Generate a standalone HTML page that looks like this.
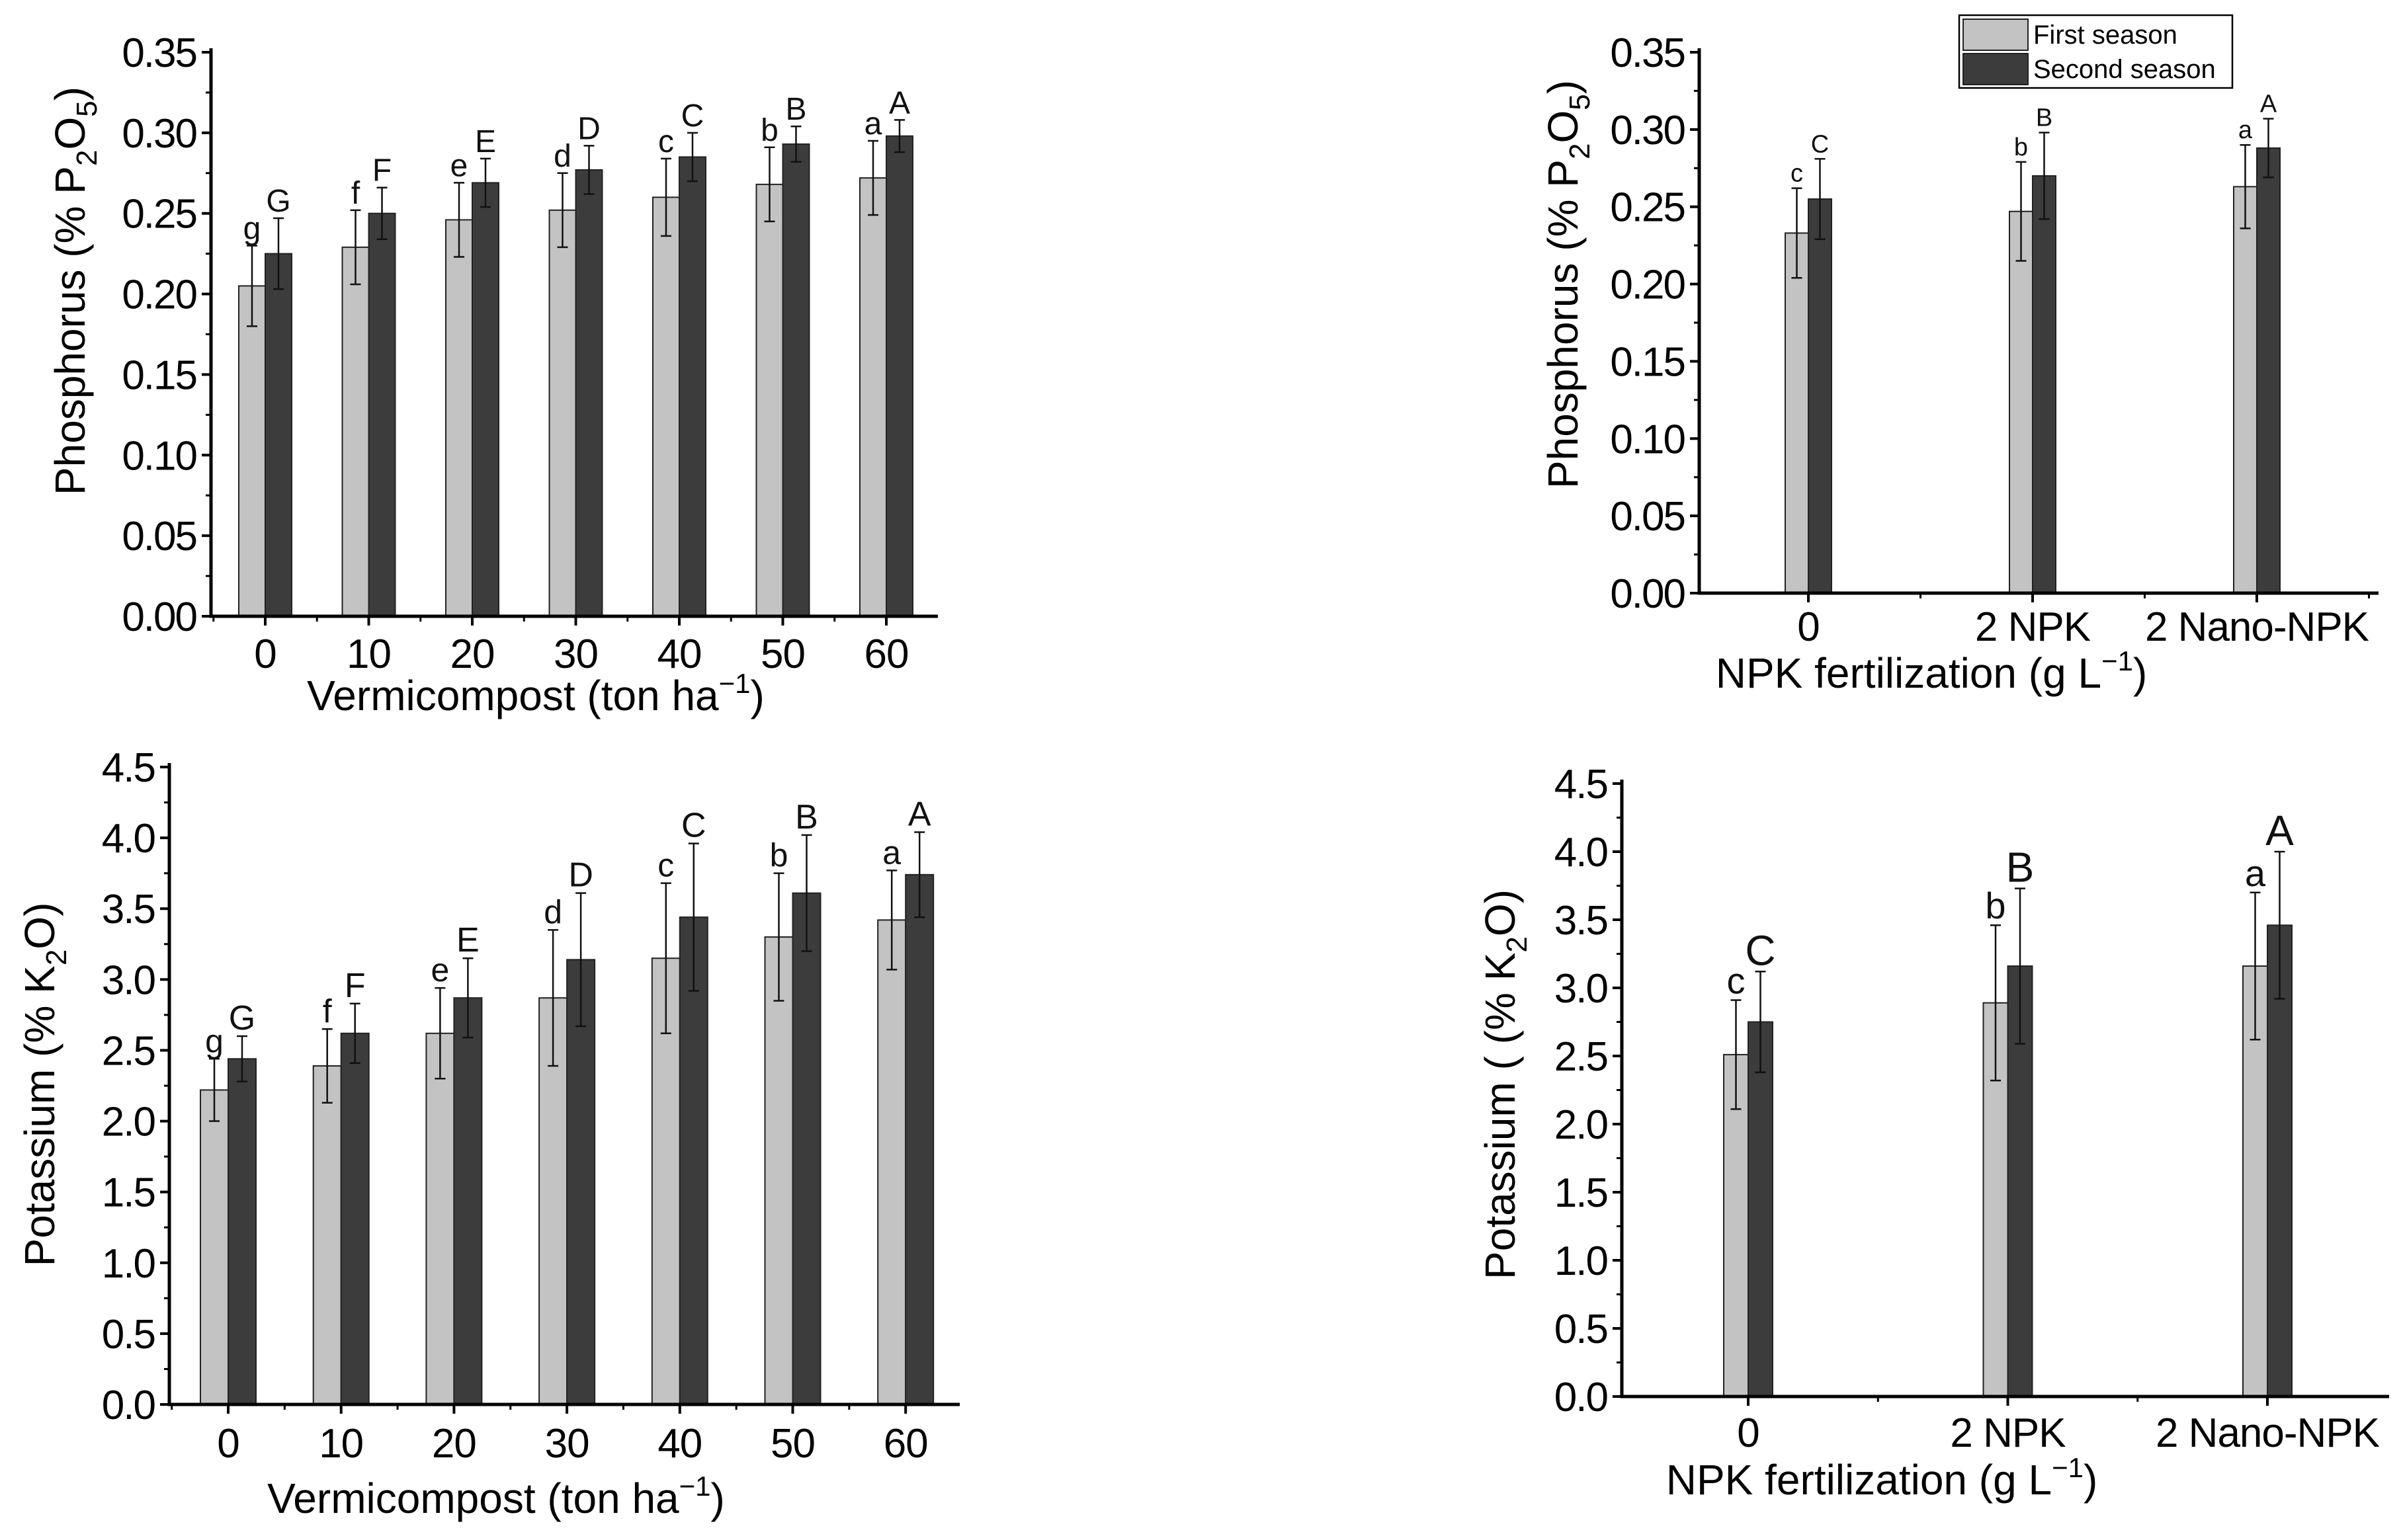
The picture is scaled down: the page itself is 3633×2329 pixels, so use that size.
<!DOCTYPE html>
<html><head><meta charset="utf-8"><style>
html,body{margin:0;padding:0;background:#fff}
svg{display:block;font-family:"Liberation Sans",Arial,sans-serif}
</style></head><body>
<svg id="fig" width="3633" height="2329" viewBox="0 0 3633 2329" xmlns="http://www.w3.org/2000/svg"></svg>
<script>
// Panel A: Phosphorus vs Vermicompost
const vcCats = ["0","10","20","30","40","50","60"];
const pVcFirst = [0.205,0.229,0.246,0.252,0.260,0.268,0.272];
const pVcFirstErr = [0.025,0.023,0.023,0.023,0.024,0.023,0.023];
const pVcSecond = [0.225,0.250,0.269,0.277,0.285,0.293,0.298];
const pVcSecondErr = [0.022,0.016,0.015,0.015,0.015,0.011,0.010];
const pVcLetters1 = ["g","f","e","d","c","b","a"];
const pVcLetters2 = ["G","F","E","D","C","B","A"];
const pTicks = ["0.00","0.05","0.10","0.15","0.20","0.25","0.30","0.35"];
// Panel B: Phosphorus vs NPK
const npkCats = ["0","2 NPK","2 Nano-NPK"];
const pNpkFirst = [0.233,0.247,0.263];
const pNpkFirstErr = [0.029,0.032,0.027];
const pNpkSecond = [0.255,0.270,0.288];
const pNpkSecondErr = [0.026,0.028,0.019];
const npkLetters1 = ["c","b","a"];
const npkLetters2 = ["C","B","A"];
// Panel C: Potassium vs Vermicompost
const kVcFirst = [2.22,2.39,2.62,2.87,3.15,3.30,3.42];
const kVcFirstErr = [0.22,0.26,0.32,0.48,0.53,0.45,0.35];
const kVcSecond = [2.44,2.62,2.87,3.14,3.44,3.61,3.74];
const kVcSecondErr = [0.16,0.21,0.28,0.47,0.52,0.41,0.30];
const kTicks = ["0.0","0.5","1.0","1.5","2.0","2.5","3.0","3.5","4.0","4.5"];
// Panel D: Potassium vs NPK
const kNpkFirst = [2.51,2.89,3.16];
const kNpkFirstErr = [0.40,0.57,0.54];
const kNpkSecond = [2.75,3.16,3.46];
const kNpkSecondErr = [0.37,0.57,0.54];

const NS="http://www.w3.org/2000/svg";
const svg=document.getElementById('fig');
function mk(tag,attrs,parent,text){const e=document.createElementNS(NS,tag);for(const k in attrs)e.setAttribute(k,attrs[k]);if(text!==undefined)e.textContent=text;(parent||svg).appendChild(e);return e;}

function panel(cfg){
  const g=mk('g',{});
  
  
  const ymax=parseFloat(cfg.ticks[cfg.ticks.length-1]);
  const yS=v=>cfg.y0-(v/ymax)*(cfg.y0-cfg.yTop);
  const xS=i=>cfg.cats0+i*cfg.step;
  for(let i=0;i<cfg.cats.length;i++){
    const series=[[cfg.s1,cfg.e1,'#c3c3c3',-1,cfg.l1],[cfg.s2,cfg.e2,'#3c3c3c',0,cfg.l2]];
    series.forEach((s,si)=>{
      const v=s[0][i],er=s[1][i];
      const x=xS(i)+s[3]*cfg.bw;
      const r=mk('rect',{x:x,y:yS(v),width:cfg.bw,height:cfg.y0-yS(v),fill:s[2],stroke:'#222','stroke-width':2},g);
      
      
      const cx=x+cfg.bw/2, t=yS(v+er), b=yS(v-er);
      const eb=mk('path',{d:`M${cx},${t}V${b}M${cx-8},${t}H${cx+8}M${cx-8},${b}H${cx+8}`,stroke:'#111','stroke-width':2.5,fill:'none'},g);
      
      
      const lt=mk('text',{x:cx,y:t-10,'font-size':si?cfg.lf2:cfg.lf1,'text-anchor':'middle',fill:'#111'},g,s[4][i]);
      
      
    });
  }
  const ax=mk('path',{d:`M${cfg.x0},${cfg.yTop-6}V${cfg.y0}H${cfg.xEnd}`,stroke:'#000','stroke-width':5,fill:'none'},g);
  
  
  cfg.ticks.forEach((t,k)=>{
    const y=yS(parseFloat(t));
    mk('line',{x1:cfg.x0-14,x2:cfg.x0,y1:y,y2:y,stroke:'#000','stroke-width':4},g);
    if(k<cfg.ticks.length-1){const ym=yS(parseFloat(t)+ymax/(cfg.ticks.length-1)/2);mk('line',{x1:cfg.x0-8,x2:cfg.x0,y1:ym,y2:ym,stroke:'#000','stroke-width':3},g);}
    const tl=mk('text',{x:cfg.x0-22,y:y+22,'font-size':62,'letter-spacing':-2,'text-anchor':'end',fill:'#000'},g,t);
    
    
  });
  for(let i=0;i<cfg.cats.length;i++){
    const x=xS(i);
    mk('line',{x1:x,x2:x,y1:cfg.y0,y2:cfg.y0+14,stroke:'#000','stroke-width':4},g);
    const xm=x-cfg.step/2; if(xm>cfg.x0) mk('line',{x1:xm,x2:xm,y1:cfg.y0,y2:cfg.y0+8,stroke:'#000','stroke-width':3},g);
    if(i===cfg.cats.length-1 && x+cfg.step/2<cfg.xEnd) mk('line',{x1:x+cfg.step/2,x2:x+cfg.step/2,y1:cfg.y0,y2:cfg.y0+8,stroke:'#000','stroke-width':3},g);
    const xl=mk('text',{x:x,y:cfg.y0+cfg.xlOff,'font-size':62,'letter-spacing':-1,'text-anchor':'middle',fill:'#000'},g,cfg.cats[i]);
    
    
  }
  const xt=mk('text',{x:cfg.xtX,y:cfg.xtY,'font-size':64,'text-anchor':'middle',fill:'#000'},g);
  
  
  xt.innerHTML=cfg.xTitle;
  const yt=mk('text',{x:0,y:0,'font-size':64,'text-anchor':'middle',fill:'#000',transform:`translate(${cfg.ytX},${cfg.ytY}) rotate(-90)`},g);
  
  
  yt.innerHTML=cfg.yTitle;
}
const vcTitle='Vermicompost (ton ha<tspan dy="-26" font-size="42">−1</tspan><tspan dy="26">)</tspan>';
const npkTitle='NPK fertilization (g L<tspan dy="-26" font-size="42">−1</tspan><tspan dy="26">)</tspan>';
const pTitle='Phosphorus (% P<tspan dy="18" font-size="44">2</tspan><tspan dy="-18">O</tspan><tspan dy="18" font-size="44">5</tspan><tspan dy="-18">)</tspan>';

panel({name:'panel-phosphorus-vermicompost',cats:vcCats,s1:pVcFirst,e1:pVcFirstErr,s2:pVcSecond,e2:pVcSecondErr,l1:pVcLetters1,l2:pVcLetters2,ticks:pTicks,
  x0:319,y0:932,yTop:79,xEnd:1418,cats0:401,step:156.5,bw:40,lf1:48,lf2:48,xlOff:78,xtX:810,xtY:1074,xTitle:vcTitle,ytX:128,ytY:440,yTitle:pTitle});
panel({name:'panel-phosphorus-npk',cats:npkCats,s1:pNpkFirst,e1:pNpkFirstErr,s2:pNpkSecond,e2:pNpkSecondErr,l1:npkLetters1,l2:npkLetters2,ticks:pTicks,
  x0:2569,y0:897,yTop:79,xEnd:3596,cats0:2734,step:339,bw:35,lf1:38,lf2:38,xlOff:72,xtX:2920,xtY:1040,xTitle:npkTitle,ytX:2385,ytY:430,yTitle:pTitle});
panel({name:'panel-potassium-vermicompost',cats:vcCats,s1:kVcFirst,e1:kVcFirstErr,s2:kVcSecond,e2:kVcSecondErr,l1:pVcLetters1,l2:pVcLetters2,ticks:kTicks,
  x0:256,y0:2124,yTop:1160,xEnd:1451,cats0:345,step:170.7,bw:42,lf1:50,lf2:52,xlOff:80,xtX:750,xtY:2288,xTitle:vcTitle,ytX:82,ytY:1640,yTitle:'Potassium (% K<tspan dy="18" font-size="44">2</tspan><tspan dy="-18">O)</tspan>'});
panel({name:'panel-potassium-npk',cats:npkCats,s1:kNpkFirst,e1:kNpkFirstErr,s2:kNpkSecond,e2:kNpkSecondErr,l1:npkLetters1,l2:npkLetters2,ticks:kTicks,
  x0:2452,y0:2112,yTop:1185,xEnd:3612,cats0:2643,step:392.5,bw:37,lf1:56,lf2:64,xlOff:76,xtX:2845,xtY:2260,xTitle:npkTitle,ytX:2290,ytY:1640,yTitle:'Potassium ( (% K<tspan dy="18" font-size="44">2</tspan><tspan dy="-18">O)</tspan>'});

const lg=mk('g',{});


mk('rect',{x:2962,y:23,width:413,height:110,fill:'#fff',stroke:'#000','stroke-width':2.5},lg);
mk('rect',{x:2968,y:29,width:98,height:47,fill:'#c3c3c3',stroke:'#222','stroke-width':2},lg);
mk('rect',{x:2968,y:81,width:98,height:47,fill:'#3c3c3c',stroke:'#222','stroke-width':2},lg);
const le1=mk('text',{x:3074,y:66,'font-size':40,fill:'#000'},lg,'First season');


const le2=mk('text',{x:3074,y:118,'font-size':40,fill:'#000'},lg,'Second season');


</script>
</body></html>
